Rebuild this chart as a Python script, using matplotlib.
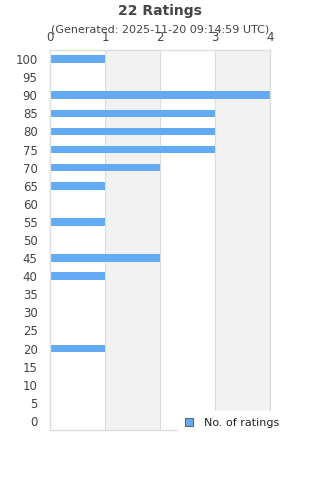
import matplotlib.pyplot as plt
import numpy as np

categories = ["100", "95", "90", "85", "80", "75", "70", "65", "60", "55", "50",
              "45", "40", "35", "30", "25", "20", "15", "10", "5", "0"]
counts = [1, 0, 4, 3, 3, 3, 2, 1, 0, 1, 0, 2, 1, 0, 0, 0, 1, 0, 0, 0, 0]
x_ticks = [0, 1, 2, 3, 4]

text_color = "#444444"
bar_color = "#62aaf4"

fig = plt.figure(figsize=(3.2, 4.8), dpi=100)
ax = fig.add_axes([50 / 320, 1 - 430 / 480, 220 / 320, 380 / 480])

y = np.arange(len(categories))
ax.set_ylim(len(categories) - 0.5, -0.5)
ax.set_xlim(0, 4)

# alternating bands
for i in range(len(x_ticks) - 1):
    if i % 2 == 1:
        ax.axvspan(x_ticks[i], x_ticks[i + 1], color="#f2f2f2", zorder=0, lw=0)
for t in x_ticks[1:]:
    ax.axvline(t, color="#dddddd", lw=0.8, zorder=1)

ax.barh(y, counts, height=0.42, color=bar_color, zorder=2, label="No. of ratings")

ax.set_yticks(y)
ax.set_yticklabels(categories)
ax.set_xticks(x_ticks)
ax.xaxis.tick_top()
ax.tick_params(axis="both", length=0, colors=text_color, labelsize=8.5)
ax.tick_params(axis="x", pad=4)
ax.tick_params(axis="y", pad=9)
for s in ax.spines.values():
    s.set_color("#dddddd")
    s.set_linewidth(1)

fig.text(0.5, 1 - 11 / 480, "22 Ratings", ha="center", va="center",
         fontsize=10, fontweight="bold", color=text_color)
fig.text(0.5, 1 - 30 / 480, "(Generated: 2025-11-20 09:14:59 UTC)", ha="center",
         va="center", fontsize=8, color=text_color)

leg = ax.legend(loc="center left", bbox_to_anchor=(178 / 320, 1 - 423 / 480),
                bbox_transform=fig.transFigure, fontsize=8,
                frameon=True, fancybox=False, edgecolor="white", framealpha=1,
                handlelength=0.75, handleheight=0.75, handletextpad=1.0,
                borderpad=0.6, borderaxespad=0)
for t in leg.get_texts():
    t.set_color("#222222")
for h in leg.legend_handles:
    h.set_edgecolor("#666666")
    h.set_linewidth(0.8)

fig.savefig("out.png", dpi=100)
